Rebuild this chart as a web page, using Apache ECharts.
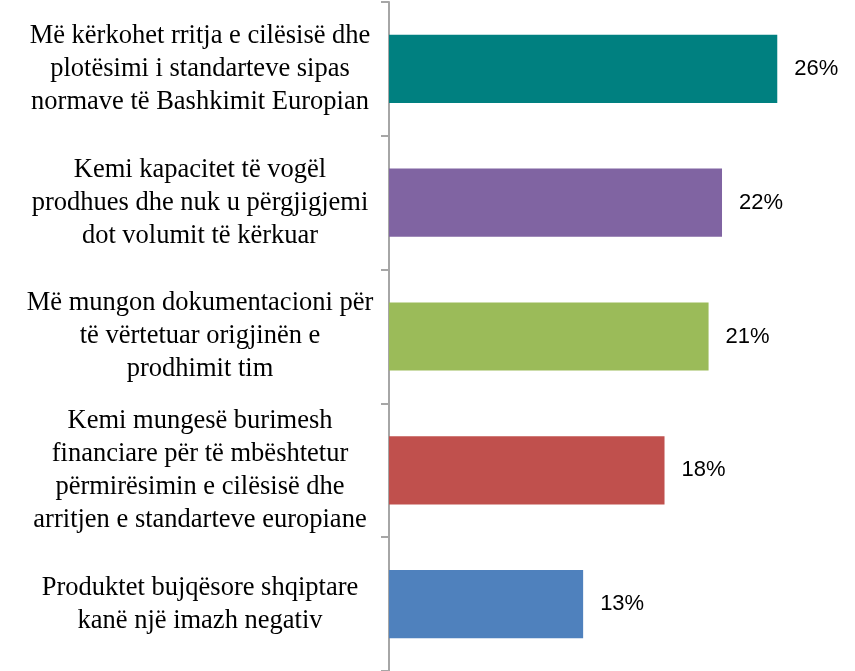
<!DOCTYPE html>
<html>
<head>
<meta charset="utf-8">
<script src="https://cdn.jsdelivr.net/npm/echarts@6/dist/echarts.min.js"></script>
<style>
  html, body { margin: 0; padding: 0; background: #fff; }
  #chart { width: 855px; height: 671px; }
</style>
</head>
<body>
<div id="chart"></div>
<script>
// kategorite (nga lart poshte)
let categories = [
  'Më kërkohet rritja e cilësisë dhe\nplotësimi i standarteve sipas\nnormave të Bashkimit Europian',
  'Kemi kapacitet të vogël\nprodhues dhe nuk u përgjigjemi\ndot volumit të kërkuar',
  'Më mungon dokumentacioni për\ntë vërtetuar origjinën e\nprodhimit tim',
  'Kemi mungesë burimesh\nfinanciare për të mbështetur\npërmirësimin e cilësisë dhe\narritjen e standarteve europiane',
  'Produktet bujqësore shqiptare\nkanë një imazh negativ'
]
// perqindjet
let values = [26.0, 22.3, 21.4, 18.45, 13.0]
let colors = ['#008080', '#8064A2', '#9BBB59', '#C0504D', '#4F81BD']

let mychart = echarts.init(document.getElementById('chart'))
let option = {
  animation: false,
  grid: {
    left: 389,
    right: 18,
    top: 2,
    bottom: 0
  },
  xAxis: {
    type: 'value',
    min: 0,
    max: 30,
    show: false
  },
  yAxis: {
    type: 'category',
    inverse: true,
    data: categories,
    axisLine: {
      lineStyle: { color: '#a6a6a6', width: 2 }
    },
    axisTick: {
      show: true,
      interval: 0,
      length: 8,
      lineStyle: { color: '#a6a6a6', width: 2 }
    },
    axisLabel: {
      interval: 0,
      margin: 189,
      align: 'center',
      padding: [7, 0, 0, 0],
      fontFamily: 'Liberation Serif',
      fontSize: 26.5,
      lineHeight: 33,
      color: '#000'
    }
  },
  series: [
    {
      type: 'bar',
      barCategoryGap: '49%',
      data: values.map(function(v, i) {
        return { value: v, itemStyle: { color: colors[i] } }
      }),
      label: {
        show: true,
        position: 'right',
        distance: 17,
        fontFamily: 'Liberation Sans',
        fontSize: 22,
        color: '#000',
        formatter: function(p) {
          return Math.round(p.value) + '%'
        }
      }
    }
  ]
}
mychart.setOption(option)
</script>
</body>
</html>
